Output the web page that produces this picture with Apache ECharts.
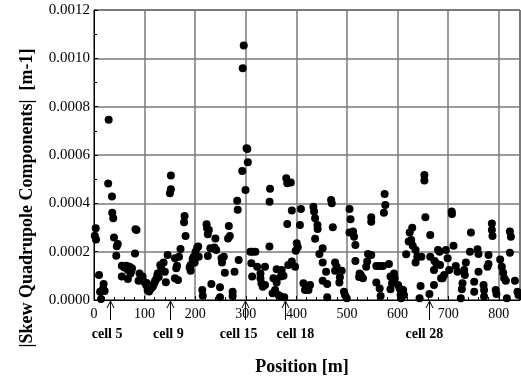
<!DOCTYPE html>
<html>
<head>
<meta charset="utf-8">
<script src="https://cdn.jsdelivr.net/npm/echarts@6/dist/echarts.min.js"></script>
<style>
html,body{margin:0;padding:0;background:#fff;}
#c{width:521px;height:383px;}
</style>
</head>
<body>
<div id="c"></div>
<script>
// Position along the ring [m]
var positions = [
  1.5,3.4,4,10,12,14,19,18,21,29,28,35.5,36,38,39.5,47,45,44,82,84,81,55,55,60,64,67,67,70,74,75,72,90,88,96,99,
  103,104,106,108,109,112.5,113,116,117,119,121,122,125,126,128,131,133,137.5,140,142,145.5,150,152,152,160,160,162.6,164,166,168,171,178,179,181,189,191,191,197,199,200.7,195,
  204,206,207,214,215,222.5,223.5,227,225,225,230,238,240,241.5,232,249,249,252,256.6,253,258.6,266.5,265,268.5,274,274,277.7,283,284,286,293,299.5,294,296,
  301.5,303,304,309,313,319,311,322.5,312.6,329,331,333.6,329,338,338,347,348,346.8,354.7,353,358,361,361,364.6,369,369,371,374.5,376,380,382,389,382,384,391,391,397.5,398.7,
  400.7,402.7,407,409,414,417,424,427,433.6,435,437,437,441.6,442,445.5,452,452,452,458.7,461,461,468.6,470,472,476.5,479.6,476.5,489.6,486,485,494,496,499.6,
  505,507,505,512,514,516.6,516.6,525,528,531.6,527,524,538,540,541.6,548,548,548,558,564.6,571,583,558,564.6,566.5,573,575.8,574.4,586,593,594,589,586,
  601,604,607,606,611,612.7,607,617,622,624,627,629,630,635.6,635.6,639,647,645.5,643.5,653,653,655,663,664.6,664.6,672,672,673,676.5,680,683,684,686,689,692,695.6,699,
  702,707,707.5,710.6,715,718.5,725,727,728.4,731.7,735,733,743,745,751.5,751.5,758,760,760,770,771,771,777.7,779.7,779.7,786.4,786.4,787.6,794,795.5,802.8,806,808.7,810.7,814,816,822,824,822,832,837,839
];
// |Skew quadrupole component| [m-1]
var skewValues = [
  0.000266,0.000297,0.000250,0.000103,0.000034,0.000004,0.000066,0.000048,0.000037,0.000746,0.000482,0.000428,0.000361,0.000338,0.000259,0.000232,0.000222,0.000183,0.000293,0.000290,0.000192,0.000142,0.000097,0.000135,0.000142,0.000124,0.000087,0.000138,0.000121,0.000131,0.000110,0.000110,0.000080,0.000097,0.000076,
  0.000062,0.000070,0.000041,0.000040,0.000035,0.000048,0.000050,0.000055,0.000060,0.000069,0.000080,0.000083,0.000100,0.000110,0.000095,0.000145,0.000130,0.000155,0.000117,0.000073,0.000186,0.000442,0.000458,0.000515,0.000173,0.000090,0.000131,0.000142,0.000083,0.000179,0.000211,0.000322,0.000348,0.000265,0.000135,0.000121,0.000145,0.000179,0.000155,0.000200,0.000170,
  0.000217,0.000221,0.000179,0.000041,0.000018,0.000313,0.000297,0.000290,0.000272,0.000182,0.000214,0.000217,0.000255,0.000207,0.000066,0.000053,0.000011,0.000173,0.000179,0.000155,0.000113,0.000306,0.000255,0.000265,0.000034,0.000017,0.000117,0.000411,0.000373,0.000166,0.000534,0.000455,0.000959,0.001053,
  0.000628,0.000625,0.000570,0.000200,0.000200,0.000200,0.000152,0.000138,0.000097,0.000110,0.000069,0.000055,0.000090,0.000138,0.000062,0.000407,0.000460,0.000221,0.000090,0.000028,0.000041,0.000072,0.000127,0.000021,0.000097,0.000014,0.000124,0.000100,0.000011,0.000504,0.000483,0.000486,0.000315,0.000145,0.000370,0.000159,0.000138,0.000204,
  0.000235,0.000218,0.000310,0.000377,0.000069,0.000041,0.000041,0.000062,0.000386,0.000366,0.000338,0.000253,0.000310,0.000294,0.000190,0.000214,0.000155,0.000080,0.000117,0.000066,0.000011,0.000414,0.000400,0.000301,0.000155,0.000138,0.000121,0.000121,0.000094,0.000072,0.000034,0.000021,0.000007,
  0.000377,0.000334,0.000279,0.000283,0.000262,0.000228,0.000161,0.000110,0.000097,0.000090,0.000105,0.000095,0.000138,0.000159,0.000190,0.000186,0.000342,0.000324,0.000141,0.000141,0.000141,0.000149,0.000072,0.000048,0.000017,0.000361,0.000393,0.000439,0.000097,0.000110,0.000090,0.000069,0.000044,
  0.000062,0.000048,0.000034,0.000021,0.000041,0.000021,0.000007,0.000189,0.000242,0.000279,0.000248,0.000299,0.000224,0.000207,0.000155,0.000179,0.000179,0.000058,0.000007,0.000517,0.000494,0.000342,0.000025,0.000269,0.000179,0.000124,0.000062,0.000161,0.000152,0.000207,0.000200,0.000145,0.000090,0.000090,0.000103,0.000207,0.000173,
  0.000124,0.000366,0.000356,0.000224,0.000141,0.000117,0.000007,0.000044,0.000069,0.000124,0.000155,0.000103,0.000200,0.000279,0.000076,0.000034,0.000210,0.000190,0.000117,0.000062,0.000041,0.000014,0.000138,0.000149,0.000186,0.000317,0.000290,0.000265,0.000041,0.000025,0.000168,0.000138,0.000113,0.000090,0.000080,0.000007,0.000283,0.000262,0.000196,0.000080,0.000034,0.000021
];
// Cell markers (arrow position and label anchor, both in metres)
var cellNames = ['cell 5','cell 9','cell 15','cell 18','cell 28'];
var cellPositions = [32, 151, 299, 377, 662];
var cellLabelPositions = [26, 147, 286, 398, 653];
// Axis ticks
var xTicks = [0,100,200,300,400,500,600,700,800];
var yTicks = [0,0.0002,0.0004,0.0006,0.0008,0.0010,0.0012];

var points = positions.map(function(p,i){ return [p, skewValues[i]]; });
var cells = cellPositions.map(function(p,i){ return [p, cellLabelPositions[i], i]; });

var serif = '"Liberation Serif", "Times New Roman", serif';
var chart = echarts.init(document.getElementById('c'), null, {renderer:'canvas'});
chart.setOption({
  animation:false,
  backgroundColor:'#fff',
  grid:{left:94, right:1, top:10, bottom:83, show:true, borderColor:'#000', borderWidth:1, backgroundColor:'transparent'},
  xAxis:{
    type:'value', min:xTicks[0], max:842, interval:100,
    axisLine:{show:true, onZero:false, lineStyle:{color:'#000', width:1}},
    axisTick:{show:true, inside:true, length:4, lineStyle:{color:'#000'}},
    minorTick:{show:true, splitNumber:5, length:3, lineStyle:{color:'#000'}},
    splitLine:{show:true, lineStyle:{color:'#7a7a7a', width:1.5}},
    axisLabel:{color:'#000', fontFamily:serif, fontSize:14, margin:7, showMaxLabel:false,
      formatter:function(v){ return xTicks.indexOf(v) >= 0 ? String(v) : ''; }}
  },
  yAxis:{
    type:'value', min:yTicks[0], max:yTicks[yTicks.length-1], interval:0.0002,
    axisLine:{show:true, onZero:false, lineStyle:{color:'#000', width:1}},
    axisTick:{show:true, inside:true, length:4, lineStyle:{color:'#000'}},
    minorTick:{show:true, splitNumber:2, length:3, lineStyle:{color:'#000'}},
    splitLine:{show:true, lineStyle:{color:'#7a7a7a', width:1.5}},
    axisLabel:{color:'#000', fontFamily:serif, fontSize:15, margin:4,
      formatter:function(v){ return v.toFixed(4); }}
  },
  series:[
    {type:'scatter', data:points, symbol:'circle', symbolSize:8,
     itemStyle:{color:'#000', opacity:1}, silent:true, z:5},
    {type:'custom', data:cells, clip:false, silent:true, z:6,
     renderItem:function(params, api){
       var tip = api.coord([api.value(0), 0]);
       var lab = api.coord([api.value(1), 0]);
       var x = Math.round(tip[0]) + 0.5, y = tip[1];
       return {type:'group', children:[
         {type:'line', shape:{x1:x, y1:y+20, x2:x, y2:y+1}, style:{stroke:'#000', lineWidth:1}},
         {type:'polyline', shape:{points:[[x-3.5,y+8],[x,y+1],[x+3.5,y+8]]}, style:{stroke:'#000', lineWidth:1, fill:null}},
         {type:'text', style:{x:lab[0], y:y+34, text:cellNames[api.value(2)], fill:'#000',
           font:'bold 14px ' + serif, align:'center', verticalAlign:'middle'}}
       ]};
     }}
  ],
  graphic:[
    {type:'text', x:302, y:367, style:{text:'Position [m]', fill:'#000', font:'bold 18px ' + serif, align:'center', verticalAlign:'middle'}},
    {type:'text', x:27, y:198, rotation:Math.PI/2, style:{text:'|Skew Quadrupole Components|  [m-1]', fill:'#000', font:'bold 18px ' + serif, align:'center', verticalAlign:'middle'}}
  ]
});
</script>
</body>
</html>
